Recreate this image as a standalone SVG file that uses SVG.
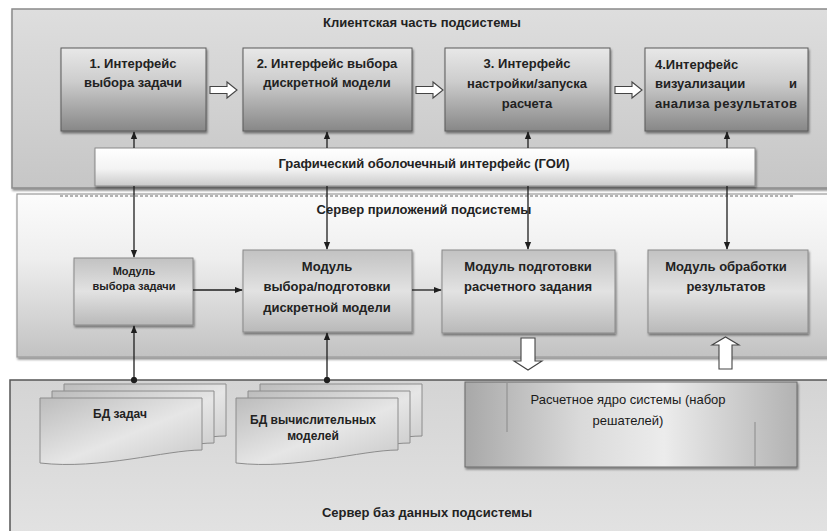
<svg xmlns="http://www.w3.org/2000/svg" width="827" height="531" viewBox="0 0 827 531">
<defs>
  <linearGradient id="gPanelTop" x1="0" y1="0" x2="0" y2="1">
    <stop offset="0" stop-color="#dedede"/>
    <stop offset="1" stop-color="#c6c6c6"/>
  </linearGradient>
  <linearGradient id="gPanelMid" x1="0" y1="0" x2="0" y2="1">
    <stop offset="0" stop-color="#fcfcfc"/>
    <stop offset="0.4" stop-color="#eeeeee"/>
    <stop offset="1" stop-color="#c2c2c2"/>
  </linearGradient>
  <linearGradient id="gPanelBot" x1="0" y1="0" x2="0" y2="1">
    <stop offset="0" stop-color="#d4d4d4"/>
    <stop offset="1" stop-color="#e2e2e2"/>
  </linearGradient>
  <linearGradient id="gBox" x1="0" y1="0" x2="0" y2="1">
    <stop offset="0" stop-color="#e8e8e8"/>
    <stop offset="0.4" stop-color="#cdcdcd"/>
    <stop offset="1" stop-color="#878787"/>
  </linearGradient>
  <linearGradient id="gGoi" x1="0" y1="0" x2="0" y2="1">
    <stop offset="0" stop-color="#ffffff"/>
    <stop offset="0.55" stop-color="#f3f3f3"/>
    <stop offset="1" stop-color="#cacaca"/>
  </linearGradient>
  <linearGradient id="gMod" x1="0" y1="0" x2="0" y2="1">
    <stop offset="0" stop-color="#c2c2c2"/>
    <stop offset="0.5" stop-color="#e2e2e2"/>
    <stop offset="1" stop-color="#b9b9b9"/>
  </linearGradient>
  <linearGradient id="gDoc" x1="0" y1="0" x2="1" y2="1">
    <stop offset="0" stop-color="#bcbcbc"/>
    <stop offset="0.55" stop-color="#e6e6e6"/>
    <stop offset="1" stop-color="#c8c8c8"/>
  </linearGradient>
  <linearGradient id="gCore" x1="0" y1="0" x2="1" y2="0">
    <stop offset="0" stop-color="#a8a8a8"/>
    <stop offset="0.35" stop-color="#dadada"/>
    <stop offset="0.6" stop-color="#ececec"/>
    <stop offset="1" stop-color="#b2b2b2"/>
  </linearGradient>
  <filter id="sh" x="-10%" y="-10%" width="120%" height="130%">
    <feDropShadow dx="1" dy="2" stdDeviation="1.2" flood-color="#000" flood-opacity="0.45"/>
  </filter>
  <marker id="arr" viewBox="0 0 10 10" refX="9" refY="5" markerWidth="8" markerHeight="8" markerUnits="userSpaceOnUse" orient="auto">
    <path d="M0,1 L10,5 L0,9 Z" fill="#1e1e1e"/>
  </marker>
  <marker id="dot" viewBox="0 0 10 10" refX="5" refY="5" markerWidth="7" markerHeight="7" markerUnits="userSpaceOnUse" orient="auto">
    <circle cx="5" cy="5" r="4.5" fill="#1e1e1e"/>
  </marker>
  <style>
    .t { font-family: "Liberation Sans", Arial, sans-serif; font-weight: bold; fill: #222; font-size: 13px; text-anchor: middle; }
    .s { font-size: 11px; }
    .panelTitle { font-size: 13px; }
    .box { fill: url(#gBox); stroke: #5a5a5a; stroke-width: 1; filter: url(#sh); }
    .mod { fill: url(#gMod); stroke: #8a8a8a; stroke-width: 1; filter: url(#sh); }
    .doc { fill: url(#gDoc); stroke: #8c8c8c; stroke-width: 1; }
    .conn { stroke: #1e1e1e; stroke-width: 1.3; fill: none; }
    .block { fill: #ffffff; stroke: #444; stroke-width: 1.1; }
  </style>
</defs>

<rect width="827" height="531" fill="#ffffff"/>

<g id="panel-client">
  <rect x="12" y="9" width="820" height="179" fill="url(#gPanelTop)" stroke="#8a8a8a" stroke-width="1.5" filter="url(#sh)"/>
  <text class="t panelTitle" x="422" y="27">Клиентская часть подсистемы</text>
</g>

<g id="panel-app">
  <rect x="17" y="194" width="815" height="163" fill="url(#gPanelMid)" stroke="#9a9a9a" stroke-width="1.2" filter="url(#sh)"/>
  <line x1="60" y1="196" x2="795" y2="196" stroke="#6a6a6a" stroke-width="1" stroke-dasharray="3,2"/>
  <text class="t panelTitle" x="424" y="214">Сервер приложений подсистемы</text>
</g>

<g id="panel-db">
  <rect x="10" y="380" width="822" height="156" fill="url(#gPanelBot)" stroke="#555" stroke-width="1.5"/>
  <text class="t panelTitle" x="427" y="517">Сервер баз данных подсистемы</text>
</g>

<g id="box1">
  <rect class="box" x="61" y="48" width="145" height="83"/>
  <text class="t" x="133" y="68">1. Интерфейс</text>
  <text class="t" x="133" y="87">выбора задачи</text>
</g>
<g id="box2">
  <rect class="box" x="243" y="48" width="169" height="83"/>
  <text class="t" x="327" y="68">2. Интерфейс выбора</text>
  <text class="t" x="327" y="87">дискретной модели</text>
</g>
<g id="box3">
  <rect class="box" x="445" y="48" width="165" height="83"/>
  <text class="t" x="527" y="68">3. Интерфейс</text>
  <text class="t" x="527" y="88">настройки/запуска</text>
  <text class="t" x="527" y="108">расчета</text>
</g>
<g id="box4">
  <rect class="box" x="645" y="48" width="163" height="83"/>
  <text class="t" x="655" y="69" text-anchor="start" style="text-anchor:start">4.Интерфейс</text>
  <text class="t" x="655" y="88" style="text-anchor:start">визуализации</text>
  <text class="t" x="797" y="88" style="text-anchor:end">и</text>
  <text class="t" x="655" y="108" style="text-anchor:start" textLength="142" lengthAdjust="spacing">анализа результатов</text>
</g>

<g id="goi">
  <rect x="95" y="148" width="660" height="38" fill="url(#gGoi)" stroke="#8a8a8a" stroke-width="1" filter="url(#sh)"/>
  <text class="t" x="424" y="168">Графический оболочечный интерфейс (ГОИ)</text>
</g>

<g id="mod1">
  <rect class="mod" x="74" y="258" width="119" height="67"/>
  <text class="t s" x="134" y="275">Модуль</text>
  <text class="t s" x="134" y="290">выбора задачи</text>
</g>
<g id="mod2">
  <rect class="mod" x="243" y="250" width="169" height="82"/>
  <text class="t" x="327" y="271">Модуль</text>
  <text class="t" x="327" y="291">выбора/подготовки</text>
  <text class="t" x="327" y="312">дискретной модели</text>
</g>
<g id="mod3">
  <rect class="mod" x="442" y="250" width="173" height="83"/>
  <text class="t" x="528" y="271">Модуль подготовки</text>
  <text class="t" x="528" y="291">расчетного задания</text>
</g>
<g id="mod4">
  <rect class="mod" x="648" y="250" width="160" height="83"/>
  <text class="t" x="726" y="271">Модуль обработки</text>
  <text class="t" x="726" y="291">результатов</text>
</g>

<g id="db-tasks">
  <path class="doc" d="M64,384 H226 V436 C190,436 140,455 64,452 Z"/>
  <path class="doc" d="M52,391 H214 V443 C178,443 128,462 52,459 Z"/>
  <path class="doc" d="M40,398 H202 V450 C166,450 100,470 40,463 Z"/>
  <text class="t" x="120" y="418" style="font-size:12px">БД задач</text>
</g>
<g id="db-models">
  <path class="doc" d="M260,384 H422 V436 C386,436 336,455 260,452 Z"/>
  <path class="doc" d="M248,391 H410 V443 C374,443 324,462 248,459 Z"/>
  <path class="doc" d="M236,398 H398 V450 C362,450 296,470 236,463 Z"/>
  <text class="t" x="313" y="424" style="font-size:12px">БД вычислительных</text>
  <text class="t" x="313" y="440" style="font-size:12px">моделей</text>
</g>

<g id="core">
  <rect x="465" y="382" width="332" height="85" fill="url(#gCore)" stroke="#6a6a6a" stroke-width="1" filter="url(#sh)"/>
  <line x1="507" y1="383" x2="507" y2="432" stroke="#8a8a8a" stroke-width="1"/>
  <line x1="755" y1="422" x2="755" y2="466" stroke="#8a8a8a" stroke-width="1"/>
  <text class="t" x="628" y="404" style="font-weight:normal;fill:#1a1a1a">Расчетное ядро системы (набор</text>
  <text class="t" x="628" y="425" style="font-weight:normal;fill:#1a1a1a">решателей)</text>
</g>

<g id="connectors">
  <!-- GOI up to interfaces -->
  <line class="conn" x1="134" y1="148" x2="134" y2="132" marker-end="url(#arr)"/>
  <line class="conn" x1="327" y1="148" x2="327" y2="132" marker-end="url(#arr)"/>
  <line class="conn" x1="528" y1="148" x2="528" y2="132" marker-end="url(#arr)"/>
  <line class="conn" x1="727" y1="148" x2="727" y2="132" marker-end="url(#arr)"/>
  <!-- GOI down to modules -->
  <line class="conn" x1="134" y1="186" x2="134" y2="257" marker-end="url(#arr)"/>
  <line class="conn" x1="327" y1="186" x2="327" y2="249" marker-end="url(#arr)"/>
  <line class="conn" x1="528" y1="186" x2="528" y2="249" marker-end="url(#arr)"/>
  <line class="conn" x1="727" y1="186" x2="727" y2="249" marker-end="url(#arr)"/>
  <!-- module chain -->
  <line class="conn" x1="193" y1="290" x2="242" y2="290" marker-end="url(#arr)"/>
  <line class="conn" x1="412" y1="290" x2="441" y2="290" marker-end="url(#arr)"/>
  <!-- modules to DBs -->
  <line class="conn" x1="134" y1="380" x2="134" y2="326" marker-start="url(#dot)" marker-end="url(#arr)"/>
  <line class="conn" x1="327" y1="380" x2="327" y2="333" marker-start="url(#dot)" marker-end="url(#arr)"/>
  <!-- hollow block arrows between interfaces -->
  <path class="block" d="M210,86.5 H227 V82 L237,90 L227,98 V93.5 H210 Z"/>
  <path class="block" d="M416,86.5 H433 V82 L443,90 L433,98 V93.5 H416 Z"/>
  <path class="block" d="M615,86.5 H632 V82 L642,90 L632,98 V93.5 H615 Z"/>
  <!-- hollow block arrows to/from core -->
  <path class="block" d="M521,338 H535 V361 H542 L528,370 L514,361 H521 Z"/>
  <path class="block" d="M719,369 H732 V345 H739 L725.5,337 L712,345 H719 Z"/>
</g>
</svg>
